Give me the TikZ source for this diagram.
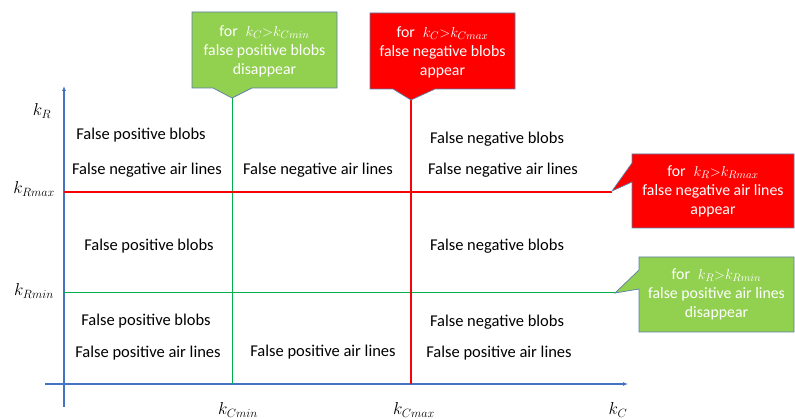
\documentclass[tikz,border=0pt]{standalone}
\usepackage{fontspec}
\setmainfont{Carlito}
\usetikzlibrary{arrows.meta}
\definecolor{axisblue}{HTML}{4472C4}
\definecolor{linegreen}{HTML}{00B050}
\definecolor{fillgreen}{HTML}{92D050}
\definecolor{purered}{RGB}{255,0,0}
\definecolor{linered}{RGB}{245,5,5}
\definecolor{boxedge}{HTML}{5B7FA8}
\tikzset{
  axis/.style={draw=axisblue, line width=1.2pt},
  gline/.style={draw=linegreen, line width=1pt},
  rline/.style={draw=linered, line width=1.2pt},
  region/.style={font=\fontsize{16.5}{19}\selectfont, inner sep=0pt, anchor=center},
  klabel/.style={font=\fontsize{17.5}{20}\selectfont, inner sep=0pt},
  callbox/.style={draw=boxedge, line width=0.7pt},
  calltext/.style={text=white, align=center, font=\fontsize{15.8}{19}\selectfont, inner sep=0pt},
}
\begin{document}
\begin{tikzpicture}[x=1pt,y=-1pt]
\useasboundingbox (0,0) rectangle (795,419);
% axes
\coordinate (ybot) at (64,407);
\coordinate (ytop) at (64,86);
\coordinate (xleft) at (45,384);
\coordinate (xright) at (628,384);
\draw[axis, -{Latex[length=5pt,width=4pt]}] (ybot) -- (ytop);
\draw[axis, -{Latex[length=5pt,width=4pt]}] (xleft) -- (xright);

% callout tips
\coordinate (tipCmin) at (232,98);
\coordinate (tipCmax) at (411,100);
\coordinate (tipRmax) at (612,191);
\coordinate (tipRmin) at (615,293);
\coordinate (Cminbot) at (232,384);
\coordinate (Cmaxbot) at (411,384);
\coordinate (Rmaxl) at (64,192);
\coordinate (Rmaxr) at (612,192);
\coordinate (Rminl) at (64,293);
\coordinate (Rminr) at (615,293);

% threshold lines
\draw[gline] (tipCmin) -- (Cminbot);
\draw[gline] (Rminl) -- (Rminr);
\draw[rline] (tipCmax) -- (Cmaxbot);
\draw[rline] (Rmaxl) -- (Rmaxr);

% callouts
\filldraw[callbox, fill=fillgreen] (192,12) -- (337,12) -- (337,88) -- (252,88) -- (tipCmin) -- (213,88) -- (192,88) -- cycle;
\node[calltext] (cCmin) at (264.5,51) {for\enspace$k_C{>}k_{Cmin}$\\false positive blobs\\disappear};

\filldraw[callbox, fill=purered] (370,13) -- (515,13) -- (515,89) -- (435,89) -- (tipCmax) -- (393,89) -- (370,89) -- cycle;
\node[calltext] (cCmax) at (442.5,52) {for\enspace$k_C{>}k_{Cmax}$\\false negative blobs\\appear};

\filldraw[callbox, fill=purered] (632,154) -- (794,154) -- (794,228) -- (632,228) -- (632,182) -- (tipRmax) -- (632,163) -- cycle;
\node[calltext] (cRmax) at (713,191) {for\enspace$k_R{>}k_{Rmax}$\\false negative air lines\\appear};

\filldraw[callbox, fill=fillgreen] (639,257) -- (794,257) -- (794,332) -- (639,332) -- (639,289) -- (tipRmin) -- (639,270) -- cycle;
\node[calltext] (cRmin) at (716.5,294) {for\enspace$k_R{>}k_{Rmin}$\\false positive air lines\\disappear};

% axis labels
\node[klabel] (kR) at (42,111) {$k_R$};
\node[klabel] (kRmax) at (34,189) {$k_{Rmax}$};
\node[klabel] (kRmin) at (34,291) {$k_{Rmin}$};
\node[klabel] (kCmin) at (238,410) {$k_{Cmin}$};
\node[klabel] (kCmax) at (414,410) {$k_{Cmax}$};
\node[klabel] (kC) at (618,410) {$k_C$};

% region texts
\node[region] (t1) at (141,135) {False positive blobs};
\node[region] (t2) at (147,170) {False negative air lines};
\node[region] (t3) at (318,170) {False negative air lines};
\node[region] (t4) at (497,139) {False negative blobs};
\node[region] (t5) at (503,170) {False negative air lines};
\node[region] (t6) at (149,246) {False positive blobs};
\node[region] (t7) at (497,246) {False negative blobs};
\node[region] (t8) at (146,321) {False positive blobs};
\node[region] (t9) at (148,353) {False positive air lines};
\node[region] (t10) at (323,352) {False positive air lines};
\node[region] (t11) at (497,322) {False negative blobs};
\node[region] (t12) at (499,353) {False positive air lines};
\end{tikzpicture}
\end{document}
